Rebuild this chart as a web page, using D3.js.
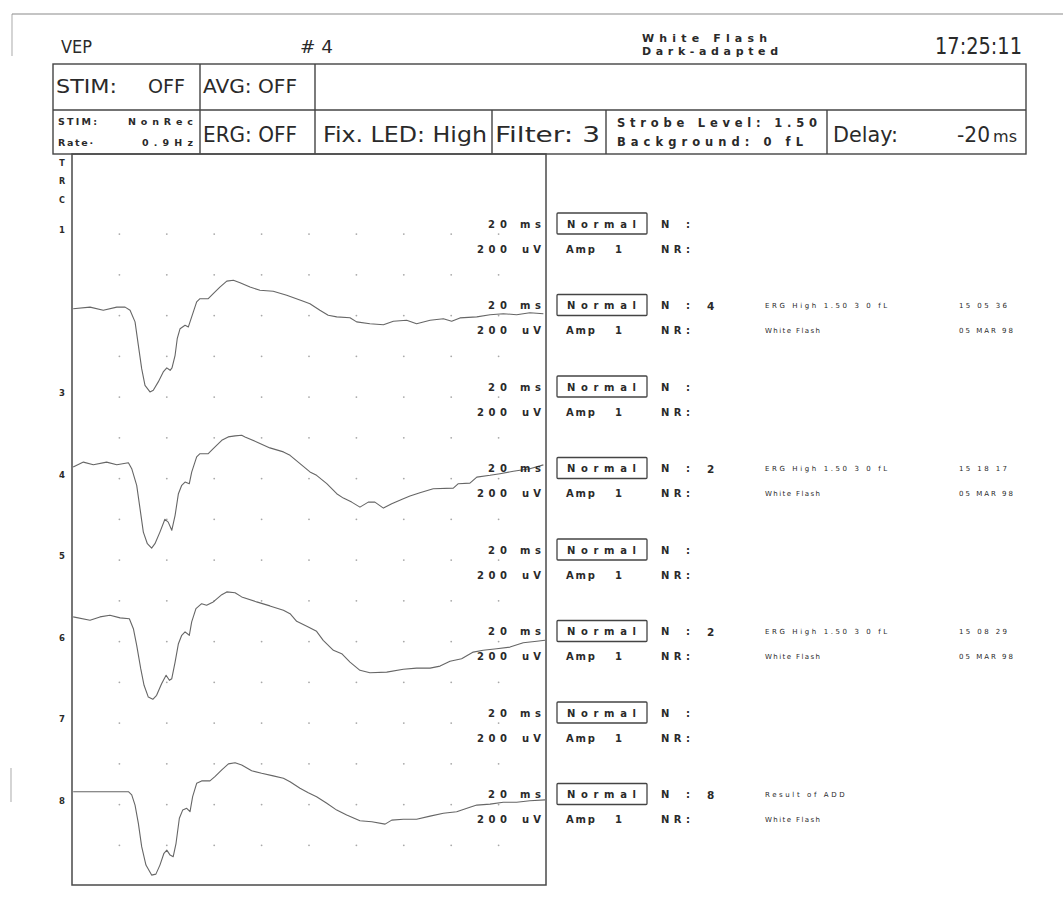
<!DOCTYPE html>
<html>
<head>
<meta charset="utf-8">
<script src="https://cdn.jsdelivr.net/npm/d3@7"></script>
<style>
  body { margin: 0; background: #fff; }
  svg { display: block; }
  text { fill: #2a2a2a; }
</style>
</head>
<body>
<div id="chart"></div>
<script>
// ---- Header / status table text ----
const programName = "VEP";
const recordNumber = "# 4";
const stimulusLines = ["White Flash", "Dark-adapted"];
const clockTime = "17:25:11";
const statusRow1 = ["STIM:", "OFF", "AVG: OFF"];
const stimModeLines = [["STIM:", "NonRec"], ["Rate\u00b7", "0.9Hz"]];
const statusRow2 = ["ERG: OFF", "Fix. LED: High", "Filter: 3"];
const strobeLines = ["Strobe Level: 1.50", "Background:  0 fL"];
const delayLabel = ["Delay:", "-20", "ms"];

// ---- Channels ----
const channels = [1, 2, 3, 4, 5, 6, 7, 8];
const numberedChannels = [1, 3, 4, 5, 6, 7, 8];
const traceColumnLetters = ["T", "R", "C"];
const timeScaleLabel = ["20", "ms"];
const ampScaleLabel = ["200", "uV"];
const sweepCounts   = ["", "4", "", "2", "", "2", "", "8"];
const sweepInfo     = ["", "ERG High 1.50 3 0 fL", "", "ERG High 1.50 3 0 fL", "", "ERG High 1.50 3 0 fL", "", "Result of ADD"];
const sweepStimulus = ["", "White Flash", "", "White Flash", "", "White Flash", "", "White Flash"];
const sweepTimes    = ["", "15 05 36", "", "15 18 17", "", "15 08 29", "", ""];
const sweepDates    = ["", "05 MAR 98", "", "05 MAR 98", "", "05 MAR 98", "", ""];

// Sweep time axis: -20 ms delay, 200 ms window, 20 ms per division
const sweepDomain = [-20, 180];
const gridTimes = [0, 20, 40, 60, 80, 100, 120, 140, 160];

// ---- Recorded responses: [time ms, amplitude uV] relative to channel reference ----
const trace2 = [[-19.5,14],[-12.4,22],[-6.8,6],[-1.1,22],[2.4,22],[4.5,6],[6.6,-52],[8.0,-169],[9.4,-286],[10.8,-369],[12.9,-402],[14.3,-394],[16.4,-352],[18.5,-302],[20.0,-282],[21.4,-294],[22.2,-282],[23.5,-219],[24.4,-136],[25.6,-86],[27.7,-69],[29.1,-77],[29.8,-52],[31.2,-2],[32.6,48],[34.0,64],[37.5,64],[39.6,89],[42.4,122],[45.3,152],[48.1,156],[50.9,144],[55.1,122],[59.3,106],[64.9,101],[70.6,81],[77.6,51],[80.4,39],[84.6,6],[88.1,-19],[91.7,-27],[97.3,-31],[100.1,-52],[105.7,-61],[111.4,-66],[115.6,-49],[121.2,-44],[125.4,-61],[131.1,-44],[136.7,-36],[140.2,-49],[143.7,-32],[150.8,-27],[156.4,-16],[162.0,-11],[167.6,-16],[173.2,-6],[178.9,-11]];
const trace4 = [[-19.5,38],[-15.2,62],[-11.0,49],[-5.4,62],[-1.1,49],[3.8,59],[5.2,29],[7.3,-54],[8.7,-171],[10.1,-288],[11.8,-346],[13.6,-368],[15.0,-346],[17.1,-288],[19.2,-224],[20.6,-238],[22.1,-279],[23.5,-204],[24.9,-96],[26.3,-54],[27.7,-38],[29.5,-46],[30.5,12],[32.6,88],[34.0,104],[37.5,104],[39.6,129],[43.2,171],[45.9,188],[48.8,193],[51.6,196],[53.0,188],[57.9,163],[63.5,133],[69.2,113],[72.0,96],[76.2,54],[80.4,13],[83.2,-4],[87.5,-46],[91.7,-96],[94.5,-118],[98.0,-138],[101.5,-163],[105.0,-138],[107.8,-138],[111.4,-168],[114.9,-146],[119.8,-121],[122.6,-108],[126.8,-91],[132.4,-71],[140.9,-68],[143.0,-46],[147.9,-43],[150.8,-13],[156.4,-4],[160.6,4],[166.2,16],[173.2,29],[178.9,48]];
const trace6 = [[-19.5,103],[-12.4,86],[-8.2,103],[-4.0,111],[0.3,98],[4.2,94],[5.9,44],[7.3,-39],[9.0,-156],[10.4,-239],[12.2,-298],[14.1,-309],[15.7,-289],[17.8,-231],[19.7,-189],[21.1,-214],[22.1,-206],[23.5,-123],[24.9,-31],[26.3,11],[27.7,28],[29.5,11],[30.5,78],[32.3,144],[34.7,169],[36.8,161],[39.6,178],[43.2,214],[45.3,228],[48.8,224],[51.6,203],[57.9,178],[63.5,158],[69.2,136],[72.0,119],[74.8,81],[79.7,53],[83.2,31],[86.0,-14],[90.3,-64],[93.8,-81],[97.3,-123],[101.5,-164],[105.7,-176],[112.8,-173],[119.8,-159],[125.4,-153],[131.1,-153],[135.3,-143],[139.5,-119],[144.4,-106],[149.3,-73],[153.5,-64],[159.2,-56],[164.8,-48],[170.4,-26],[176.1,-19],[179.6,-14]];
const trace8 = [[-19.5,44],[3.8,44],[5.2,28],[6.6,-23],[8.0,-114],[9.4,-231],[11.2,-323],[13.6,-373],[15.4,-368],[17.1,-323],[18.8,-264],[20.0,-248],[21.4,-273],[22.7,-281],[23.9,-214],[25.3,-89],[26.7,-48],[28.4,-39],[29.8,-56],[30.9,19],[32.6,86],[34.7,98],[38.2,98],[40.3,119],[43.2,153],[46.0,183],[48.8,189],[51.6,178],[55.8,149],[60.0,136],[64.9,123],[69.2,111],[72.0,94],[76.2,61],[79.7,39],[83.2,19],[87.5,-14],[91.7,-48],[95.9,-73],[101.5,-101],[106.5,-106],[112.1,-118],[114.9,-98],[119.8,-94],[125.4,-94],[131.1,-78],[136.7,-64],[142.3,-56],[147.9,-34],[150.8,-23],[156.4,-18],[162.0,-9],[167.6,-9],[173.2,-1],[179.6,3]];
const recordedTraces = [
  { channel: 2, points: trace2 },
  { channel: 4, points: trace4 },
  { channel: 6, points: trace6 },
  { channel: 8, points: trace8 }
];

// ---- Drawing ----
const W = 1063, H = 906;
const svg = d3.select("#chart").append("svg").attr("width", W).attr("height", H);
svg.append("rect").attr("width", W).attr("height", H).attr("fill", "#fff");

function label(g, s, x, y, o = {}) {
  const t = g.append("text").attr("x", x).attr("y", y).text(s)
    .style("font-family", o.family || "'DejaVu Sans', sans-serif")
    .style("font-size", (o.size || 10) + "px");
  if (o.len) t.attr("textLength", o.len).attr("lengthAdjust", o.adjust || "spacingAndGlyphs");
  if (o.anchor) t.attr("text-anchor", o.anchor);
  if (o.mid) t.attr("dominant-baseline", "central");
  if (o.spacing) t.style("letter-spacing", o.spacing + "px");
  if (o.weight) t.style("font-weight", o.weight);
  return t;
}

// page edge of the printout
const edge = svg.append("g").attr("stroke", "#8a8a8a").attr("stroke-width", 1.2);
edge.append("line").attr("x1", 12).attr("x2", W).attr("y1", 14).attr("y2", 14);
edge.append("line").attr("x1", 12).attr("x2", 12).attr("y1", 14).attr("y2", 56).attr("stroke-opacity", 0.6);
edge.append("line").attr("x1", 11).attr("x2", 11).attr("y1", 768).attr("y2", 802).attr("stroke-opacity", 0.6);

// title line
const head = svg.append("g");
label(head, programName, 61, 53, { size: 17, len: 31 });
label(head, recordNumber, 300, 53, { size: 17, len: 33 });
label(head, stimulusLines[0], 642, 41.5, { size: 11, len: 125, adjust: "spacing", weight: "bold" });
label(head, stimulusLines[1], 642, 55, { size: 11, len: 136, adjust: "spacing", weight: "bold" });
label(head, clockTime, 935, 54, { size: 23, len: 87 });

// status table
const table = svg.append("g").attr("fill", "none").attr("stroke", "#444").attr("stroke-width", 1.4);
const tL = 53, tR = 1026, tT = 64, tM = 110, tB = 154;
table.append("rect").attr("x", tL).attr("y", tT).attr("width", tR - tL).attr("height", tB - tT);
table.append("line").attr("x1", tL).attr("x2", tR).attr("y1", tM).attr("y2", tM);
[200, 315].forEach(cx => table.append("line").attr("x1", cx).attr("x2", cx).attr("y1", tT).attr("y2", tM));
[200, 315, 492, 606, 827].forEach(cx => table.append("line").attr("x1", cx).attr("x2", cx).attr("y1", tM).attr("y2", tB));

const cells = svg.append("g");
label(cells, statusRow1[0], 56, 93, { size: 20, len: 61 });
label(cells, statusRow1[1], 148, 93, { size: 20, len: 37 });
label(cells, statusRow1[2], 203, 93, { size: 20, len: 94 });
label(cells, stimModeLines[0][0], 58, 125, { size: 9.5, len: 39, adjust: "spacing", weight: "bold" });
label(cells, stimModeLines[0][1], 128, 125, { size: 9.5, len: 65, adjust: "spacing", weight: "bold" });
label(cells, stimModeLines[1][0], 58, 146, { size: 9.5, len: 35, adjust: "spacing", weight: "bold" });
label(cells, stimModeLines[1][1], 142, 146, { size: 9.5, len: 51, adjust: "spacing", weight: "bold" });
label(cells, statusRow2[0], 203, 142, { size: 21, len: 94 });
label(cells, statusRow2[1], 323, 142, { size: 21, len: 164 });
label(cells, statusRow2[2], 495, 142, { size: 21, len: 105 });
label(cells, strobeLines[0], 617, 127, { size: 11.5, len: 200, adjust: "spacing", weight: "bold" });
label(cells, strobeLines[1], 617, 146, { size: 11.5, len: 186, adjust: "spacing", weight: "bold" });
label(cells, delayLabel[0], 833, 142, { size: 21, len: 65 });
label(cells, delayLabel[1], 957, 142, { size: 21, len: 33 });
label(cells, delayLabel[2], 993, 142, { size: 15, len: 24 });

// trace area
const x = d3.scaleLinear().domain(sweepDomain).range([72, 546]);
const chY = d3.scaleLinear().domain([1, 8]).range([230, 800.5]);
const amp = d3.scaleLinear().domain([0, 200]).range([0, -40]);
const frameTop = tB, frameBottom = 885;

svg.append("rect").attr("x", x(sweepDomain[0])).attr("y", frameTop)
  .attr("width", x(sweepDomain[1]) - x(sweepDomain[0])).attr("height", frameBottom - frameTop)
  .attr("fill", "none").attr("stroke", "#4a4a4a").attr("stroke-width", 1.5);

// dot grid: one row at each channel reference and one half a channel below
const gridRows = d3.range(1.05, 8.6, 0.5);
const dots = svg.append("g").attr("fill", "#a8a8a8");
gridRows.forEach(r => gridTimes.forEach(t => {
  dots.append("circle").attr("cx", x(t)).attr("cy", chY(r)).attr("r", 0.9);
}));

// channel column letters and numbers
const left = svg.append("g");
traceColumnLetters.forEach((s, i) => label(left, s, 62, [163, 181, 200][i], { size: 8, anchor: "middle", mid: true, weight: "bold" }));
numberedChannels.forEach(c => label(left, String(c), 62, chY(c), { size: 8.5, anchor: "middle", mid: true, weight: "bold" }));

// recorded waveforms
const line = d3.line().curve(d3.curveLinear);
recordedTraces.forEach(tr => {
  const base = chY(tr.channel);
  svg.append("path")
    .attr("d", line(tr.points.map(([t, v]) => [x(t), base + amp(v)])))
    .attr("fill", "none").attr("stroke", "#666").attr("stroke-width", 1.1)
    .attr("stroke-linejoin", "round");
});

// per-channel scale and acquisition labels
const info = svg.append("g");
channels.forEach((c, i) => {
  const top = chY(c) - 6, bottom = chY(c) + 19;
  const b = { size: 10, adjust: "spacing", mid: true, weight: "bold" };
  label(info, timeScaleLabel[0], 507, top, { ...b, len: 19, anchor: "end" });
  label(info, timeScaleLabel[1], 520, top, { ...b, len: 21 });
  label(info, ampScaleLabel[0], 507, bottom, { ...b, len: 30, anchor: "end" });
  label(info, ampScaleLabel[1], 522, bottom, { ...b, len: 19 });

  info.append("rect").attr("x", 557).attr("y", chY(c) - 17).attr("width", 90).attr("height", 21)
    .attr("fill", "none").attr("stroke", "#444").attr("stroke-width", 1.3).attr("rx", 1);
  label(info, "Normal", 567, top, { ...b, len: 69 });
  label(info, "N", 661, top, b);
  label(info, ":", 686, top, b);
  if (sweepCounts[i]) label(info, sweepCounts[i], 707, top, { ...b, size: 10.5 });
  label(info, "Amp", 566, bottom, { ...b, len: 29 });
  label(info, "1", 615, bottom, b);
  label(info, "NR:", 661, bottom, { ...b, len: 29 });

  if (sweepInfo[i]) label(info, sweepInfo[i], 765, top, { size: 7, spacing: 2.6, mid: true });
  if (sweepStimulus[i]) label(info, sweepStimulus[i], 765, bottom, { size: 7, spacing: 1.4, mid: true });
  if (sweepTimes[i]) label(info, sweepTimes[i], 959, top, { size: 7, len: 48, adjust: "spacing", mid: true });
  if (sweepDates[i]) label(info, sweepDates[i], 959, bottom, { size: 7, len: 54, adjust: "spacing", mid: true });
});
</script>
</body>
</html>
